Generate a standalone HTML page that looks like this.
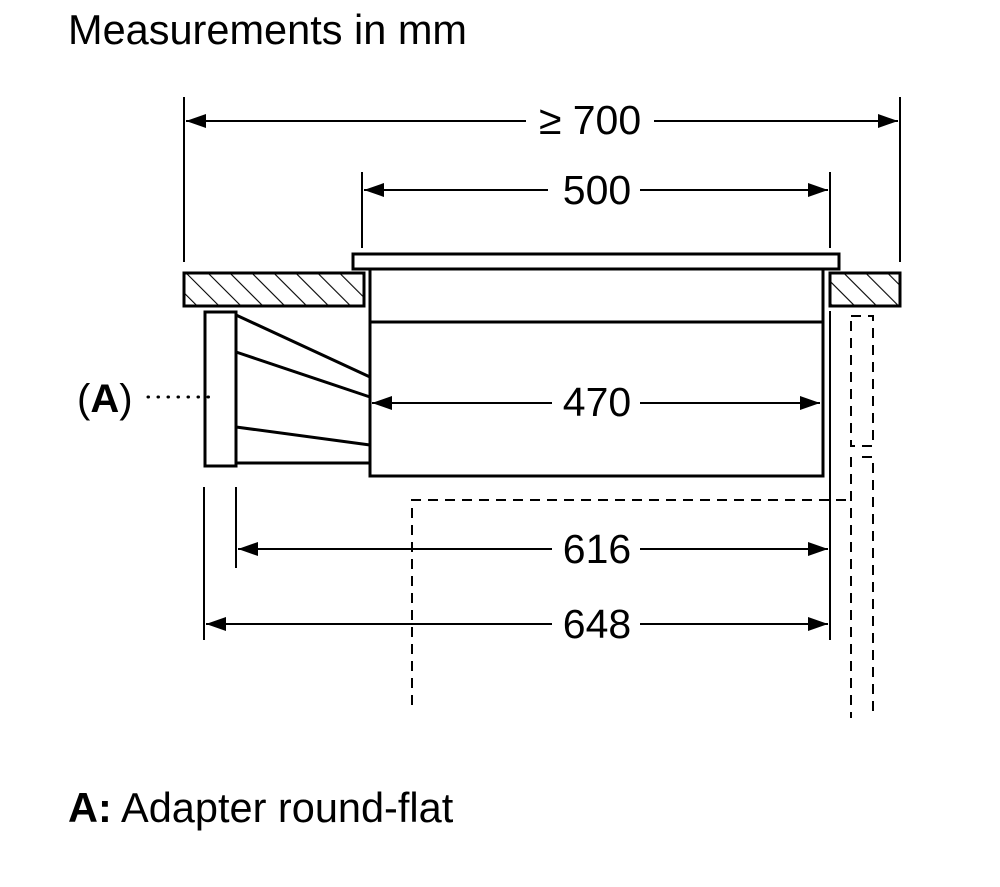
<!DOCTYPE html>
<html><head><style>
html,body{margin:0;padding:0;background:#fff;}
svg{display:block}
text{font-family:"Liberation Sans",sans-serif;fill:#000}
</style></head><body>
<svg width="1000" height="887" viewBox="0 0 1000 887" xmlns="http://www.w3.org/2000/svg">
<defs>
<pattern id="h" patternUnits="userSpaceOnUse" width="15.5" height="15.5" patternTransform="rotate(-45)">
<rect width="15.5" height="15.5" fill="#fff"/><line x1="0" y1="0" x2="0" y2="15.5" stroke="#000" stroke-width="2.2"/>
</pattern>
<marker id="a" markerWidth="20" markerHeight="14" refX="20" refY="7" orient="auto-start-reverse" markerUnits="userSpaceOnUse">
<path d="M0,0 L20,7 L0,14 z" fill="#000"/></marker>
</defs>
<text x="68" y="44" font-size="41.5">Measurements in mm</text>
<text x="68" y="822" font-size="41.5"><tspan font-weight="bold">A:</tspan> Adapter round-flat</text>
<g stroke="#000" fill="none">
<line x1="184" y1="97" x2="184" y2="262" stroke-width="2"/>
<line x1="900" y1="97" x2="900" y2="262" stroke-width="2"/>
<line x1="362" y1="172" x2="362" y2="248" stroke-width="2"/>
<line x1="830" y1="172" x2="830" y2="248" stroke-width="2"/>
<line x1="236" y1="487" x2="236" y2="568" stroke-width="2"/>
<line x1="204" y1="487" x2="204" y2="640" stroke-width="2"/>
<line x1="830" y1="311" x2="830" y2="640" stroke-width="2"/>
<line x1="186" y1="121" x2="526" y2="121" stroke-width="2" marker-start="url(#a)"/>
<line x1="654" y1="121" x2="898" y2="121" stroke-width="2" marker-end="url(#a)"/>
<line x1="364" y1="190" x2="548" y2="190" stroke-width="2" marker-start="url(#a)"/>
<line x1="640" y1="190" x2="828" y2="190" stroke-width="2" marker-end="url(#a)"/>
<line x1="372" y1="403" x2="552" y2="403" stroke-width="2" marker-start="url(#a)"/>
<line x1="640" y1="403" x2="820" y2="403" stroke-width="2" marker-end="url(#a)"/>
<line x1="238" y1="549" x2="552" y2="549" stroke-width="2" marker-start="url(#a)"/>
<line x1="640" y1="549" x2="828" y2="549" stroke-width="2" marker-end="url(#a)"/>
<line x1="206" y1="624" x2="552" y2="624" stroke-width="2" marker-start="url(#a)"/>
<line x1="640" y1="624" x2="828" y2="624" stroke-width="2" marker-end="url(#a)"/>
<rect x="184" y="273" width="180" height="33" fill="url(#h)" stroke-width="3"/>
<rect x="830" y="273" width="70" height="33" fill="url(#h)" stroke-width="3"/>
<rect x="353" y="254" width="486" height="15" stroke-width="3" fill="#fff"/>
<rect x="370" y="269" width="453" height="207" stroke-width="3"/>
<line x1="370" y1="322" x2="823" y2="322" stroke-width="3"/>
<rect x="205" y="312" width="31" height="154" stroke-width="3"/>
<line x1="236" y1="315" x2="370" y2="377" stroke-width="3"/>
<line x1="236" y1="352" x2="370" y2="397" stroke-width="3"/>
<line x1="236" y1="427" x2="370" y2="445" stroke-width="3"/>
<line x1="236" y1="463" x2="370" y2="463" stroke-width="3"/>
<rect x="851" y="316" width="22" height="130" stroke-width="2" stroke-dasharray="10,7"/>
<path d="M412,705 L412,500 L851,500" stroke-width="2" stroke-dasharray="10,7"/>
<line x1="851" y1="457" x2="851" y2="718" stroke-width="2" stroke-dasharray="10,7"/>
<path d="M862,457 L873,457 L873,718" stroke-width="2" stroke-dasharray="10,7"/>
<line x1="148" y1="397" x2="212" y2="397" stroke-width="3" stroke-dasharray="0.5,9.5" stroke-linecap="round"/>
</g>
<g font-size="41" text-anchor="middle">
<text x="590" y="134">≥ 700</text>
<text x="597" y="204">500</text>
<text x="597" y="416">470</text>
<text x="597" y="563">616</text>
<text x="597" y="638">648</text>
</g>
<text x="77" y="412" font-size="40">(<tspan font-weight="bold">A</tspan>)</text>
</svg>
</body></html>
